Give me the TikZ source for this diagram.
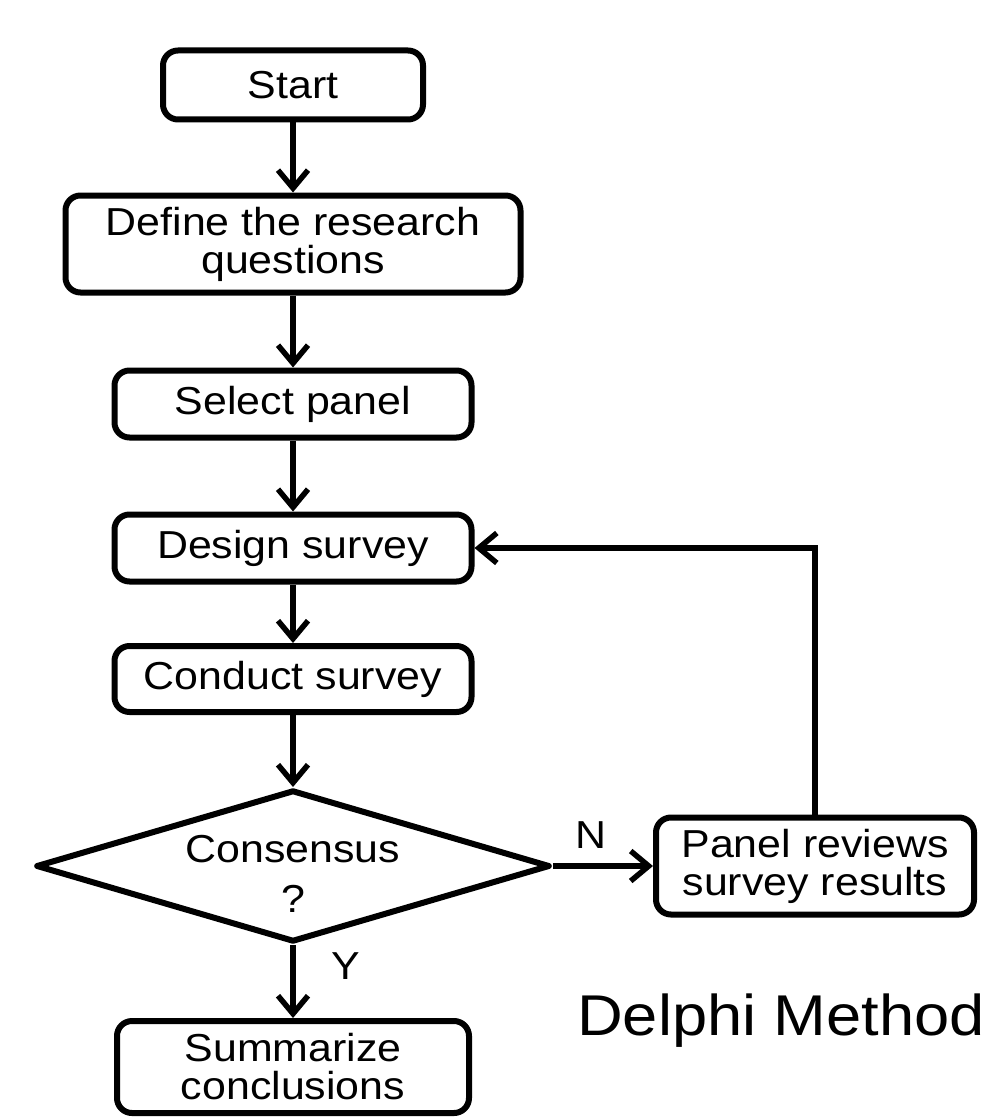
\documentclass[tikz,border=0pt]{standalone}
\usepackage{fontspec}
\setmainfont{Liberation Sans}[FakeStretch=1.1]
\usetikzlibrary{shapes.geometric,arrows.meta}
\begin{document}
\begin{tikzpicture}[x=1pt,y=-1pt,
  box/.style={draw, line width=6pt, rounded corners=15pt, align=center, inner sep=0pt,
              font=\fontsize{39}{38}\selectfont},
  lbl/.style={font=\fontsize{39}{50}\selectfont, align=center, inner sep=0pt},
  conn/.style={line width=5.5pt, -{Straight Barb[length=18pt,width=30pt]}},
  fb/.style={line width=5.5pt, line join=miter, -{Straight Barb[length=18pt,width=30pt]}}
]
\useasboundingbox (0,0) rectangle (983,1118);

\node[box, minimum width=260pt, minimum height=69pt] (start) at (293,85) {Start};
\node[box, minimum width=455pt, minimum height=97pt] (define) at (293,244) {Define the research\\questions};
\node[box, minimum width=357pt, minimum height=67pt] (select) at (293,404) {Select panel};
\node[box, minimum width=357pt, minimum height=67pt] (design) at (293,548) {Design survey};
\node[box, minimum width=357pt, minimum height=66pt] (conduct) at (293,679) {Conduct survey};
\node[draw, diamond, shape aspect=3.4, line width=6pt, line join=round, inner sep=0pt,
      minimum width=514pt, minimum height=152pt] (dec) at (293,866) {};
\node[lbl] (dectext) at (293,874) {Consensus\\?};
\node[box, minimum width=318pt, minimum height=97pt] (panel) at (815,866) {Panel reviews\\survey results};
\node[box, minimum width=352pt, minimum height=92pt] (summ) at (293,1067) {Summarize\\conclusions};

\node[lbl] (nlab) at (591,835) {N};
\node[lbl] (ylab) at (346,966) {Y};
\node[font=\fontsize{57.5}{60}\selectfont, anchor=base west, inner sep=0pt] (title) at (577,1035) {Delphi Method};

\draw[conn] (start) -- (define);
\draw[conn] (define) -- (select);
\draw[conn] (select) -- (design);
\draw[conn] (design) -- (conduct);
\draw[conn] (conduct) -- (dec);
\draw[conn] (dec) -- (panel);
\draw[conn] (dec) -- (summ);
\draw[fb] (panel.north) |- (design.east);
\end{tikzpicture}
\end{document}
